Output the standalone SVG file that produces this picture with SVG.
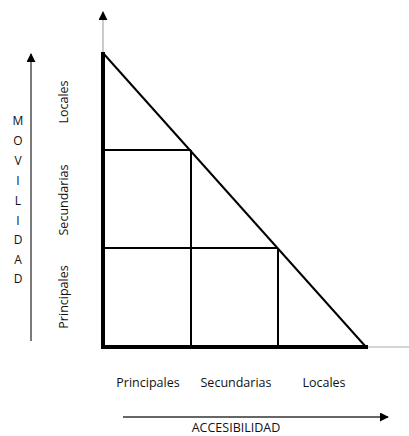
<svg xmlns="http://www.w3.org/2000/svg" width="409" height="436" viewBox="0 0 409 436">
  <style>
    .lbl { font-family: "Open Sans", "Liberation Sans", sans-serif; font-size: 12.5px; fill: #111; }
    .let { font-family: "Open Sans", "Liberation Sans", sans-serif; font-size: 12px; fill: #111; text-anchor: middle; }
    .thick { stroke: #000; stroke-width: 4; fill: none; }
    .thin { stroke: #000; stroke-width: 2; fill: none; }
    .axis { stroke: #aaa; stroke-width: 1.2; fill: none; }
    .guide { stroke: #333; stroke-width: 1.3; fill: none; }
  </style>
  <defs>
    <marker id="head" viewBox="0 0 10 10" refX="9" refY="5" markerWidth="9" markerHeight="9" markerUnits="userSpaceOnUse" orient="auto">
      <path d="M0,0 L10,5 L0,10 Z" fill="#000"/>
    </marker>
  </defs>

  <rect width="409" height="436" fill="#fff"/>

  <g id="connectors">
    <!-- chart axes -->
    <line class="axis" x1="103" y1="55" x2="103" y2="12" marker-end="url(#head)"/>
    <line class="axis" x1="366" y1="347" x2="409" y2="347"/>
    <!-- direction arrows -->
    <line class="guide" x1="31" y1="341" x2="31" y2="54" marker-end="url(#head)"/>
    <line class="guide" x1="123" y1="417" x2="388" y2="417" marker-end="url(#head)"/>
  </g>

  <g id="triangle">
    <line class="thin" x1="103" y1="53" x2="366" y2="347"/>
    <line class="thick" x1="103" y1="52" x2="103" y2="349"/>
    <line class="thick" x1="101" y1="347" x2="368" y2="347"/>
  </g>

  <g id="grid">
    <line class="thin" x1="103" y1="150" x2="191" y2="150"/>
    <line class="thin" x1="191" y1="150" x2="191" y2="347"/>
    <line class="thin" x1="103" y1="248" x2="278" y2="248"/>
    <line class="thin" x1="278" y1="248" x2="278" y2="347"/>
  </g>

  <g id="movilidad">
    <text class="let" x="18" y="125">M</text>
    <text class="let" x="18" y="145">O</text>
    <text class="let" x="18" y="165">V</text>
    <text class="let" x="18" y="185">I</text>
    <text class="let" x="18" y="205">L</text>
    <text class="let" x="18" y="225">I</text>
    <text class="let" x="18" y="244">D</text>
    <text class="let" x="18" y="264">A</text>
    <text class="let" x="18" y="283">D</text>
  </g>

  <g id="vertical-labels" class="lbl" text-anchor="middle">
    <text transform="translate(68,102) rotate(-90)">Locales</text>
    <text transform="translate(68,200) rotate(-90)">Secundarias</text>
    <text transform="translate(68,297) rotate(-90)">Principales</text>
  </g>

  <g id="horizontal-labels" class="lbl" text-anchor="middle">
    <text x="148" y="387">Principales</text>
    <text x="236" y="387">Secundarias</text>
    <text x="324" y="387">Locales</text>
  </g>

  <g id="accesibilidad">
    <text class="lbl" x="236" y="432" text-anchor="middle" font-size="12">ACCESIBILIDAD</text>
  </g>
</svg>
